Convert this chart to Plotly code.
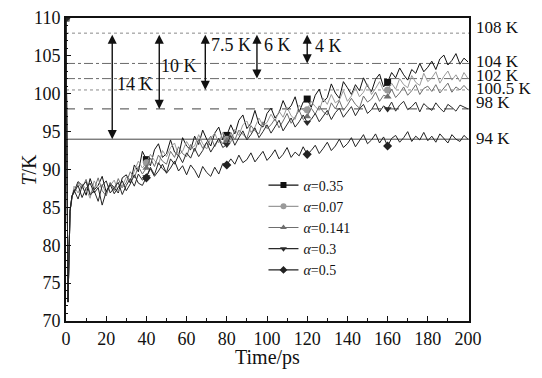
import plotly.graph_objects as go

# ---------------- data ----------------
time_ps = [0, 1, 2, 3] + list(range(4, 201, 2))

start_drop = [110, 72.5, 84.5, 86.5]

T_a035 = start_drop + [
    87.1, 88.4, 87.9, 86.6, 88.8, 87.3, 87.9, 89.1, 87.0, 88.2,
    87.6, 86.9, 88.9, 89.3, 88.2, 90.6, 89.7, 92.4, 91.3, 90.5,
    92.6, 93.4, 91.6, 92.1, 93.9, 92.3, 91.8, 94.2, 93.1, 92.6,
    94.4, 93.3, 95.2, 94.0, 93.1, 94.8, 95.6, 93.9, 94.5, 95.9,
    94.7, 96.5, 97.2, 95.4, 96.1, 97.8, 96.0, 95.6, 97.4, 98.1,
    96.8, 97.5, 99.1, 97.9, 98.4, 99.6, 97.6, 98.9, 99.3, 98.2,
    99.8, 100.6, 98.9, 99.5, 101.3, 100.1, 99.4, 101.6, 100.8, 99.9,
    101.2, 100.4, 102.1, 101.0, 100.3, 101.9, 102.6, 100.9, 101.5, 102.8,
    102.1, 103.4, 102.5, 101.8, 103.2, 102.7, 104.0, 102.9, 103.5, 104.3,
    103.2, 104.6, 105.1, 103.8, 104.4, 105.3, 103.9, 104.7, 104.2]

T_a007 = start_drop + [
    87.8, 86.9, 88.1, 87.4, 86.2, 88.5, 87.6, 88.0, 86.8, 87.9,
    88.6, 87.1, 87.8, 89.0, 88.4, 89.8, 91.1, 90.2, 90.9, 92.0,
    91.2, 90.6, 92.5, 91.7, 92.9, 93.5, 91.9, 92.4, 93.7, 92.8,
    93.1, 94.6, 93.4, 92.7, 94.1, 94.8, 93.5, 94.9, 94.0, 93.6,
    95.3, 94.5, 95.9, 96.4, 94.9, 95.6, 96.8, 95.8, 96.2, 97.3,
    96.4, 97.7, 96.9, 98.2, 97.1, 96.6, 98.5, 97.8, 97.9, 99.0,
    98.3, 97.8, 99.4, 98.6, 99.9, 98.8, 99.2, 100.4, 99.0, 99.7,
    100.8, 99.6, 100.2, 101.3, 99.9, 100.7, 101.6, 100.4, 100.5, 101.4,
    100.6, 102.0, 101.2, 100.8, 102.4, 101.5, 101.1, 102.7, 101.6, 102.1,
    102.9, 101.4, 102.3, 103.0, 101.8, 102.5, 101.6, 102.8, 102.0]

T_a0141 = start_drop + [
    86.9, 88.2, 87.5, 88.7, 86.8, 87.4, 88.9, 87.2, 86.5, 88.3,
    87.2, 88.8, 87.6, 88.3, 89.7, 88.9, 90.4, 89.4, 90.2, 91.5,
    90.4, 91.9, 91.1, 90.7, 92.4, 91.6, 93.0, 92.1, 91.7, 93.3,
    92.4, 93.9, 92.8, 93.6, 94.4, 93.0, 94.1, 93.4, 93.8, 94.9,
    93.9, 95.2, 94.6, 94.1, 95.8, 95.1, 94.7, 96.3, 95.4, 95.9,
    96.7, 95.5, 96.4, 97.4, 96.1, 97.0, 97.8, 96.6, 97.0, 98.1,
    97.3, 98.4, 97.6, 97.2, 98.8, 98.0, 99.1, 97.8, 98.5, 99.4,
    98.6, 98.1, 99.7, 98.9, 99.3, 100.2, 99.0, 99.8, 99.6, 100.6,
    99.5, 100.1, 100.9, 99.8, 100.4, 101.2, 99.9, 100.7, 101.0, 100.3,
    101.2, 100.1, 100.8, 101.4, 100.2, 100.9, 100.5, 101.1, 100.5]

T_a03 = start_drop + [
    87.3, 86.1, 87.8, 88.4, 86.6, 87.2, 85.8, 87.9, 88.5, 86.9,
    87.6, 88.3, 86.7, 87.9, 88.8, 87.8, 89.4, 88.6, 89.0, 90.3,
    89.3, 90.9, 90.1, 89.6, 91.4, 90.7, 91.9, 90.9, 92.2, 91.5,
    92.8, 91.7, 92.5, 93.6, 92.3, 93.2, 94.1, 92.9, 93.3, 94.5,
    93.2, 94.2, 95.1, 93.9, 94.6, 95.5, 94.2, 95.0, 95.9, 94.8,
    95.7, 96.5, 95.1, 95.9, 96.8, 95.6, 96.3, 97.2, 96.2, 96.6,
    97.4, 96.3, 97.0, 97.8, 96.6, 97.5, 98.1, 96.9, 97.6, 98.3,
    97.1, 98.0, 98.6, 97.4, 97.9, 98.8, 97.6, 98.4, 98.0, 98.9,
    97.7, 98.5, 99.0, 97.9, 98.3, 98.9, 97.6, 98.7, 98.2, 97.8,
    98.8, 98.1, 97.6, 98.6, 98.2, 97.7, 98.5, 98.3, 98.0]

T_a05 = start_drop + [
    87.0, 87.9, 86.3, 87.5, 88.2, 86.9, 87.6, 85.3, 87.1, 88.0,
    86.8, 87.7, 88.5, 87.2, 88.1, 89.3, 88.2, 87.9, 88.9, 90.1,
    89.1, 89.8, 90.7, 89.5, 90.2, 91.1, 89.8, 90.5, 89.3, 90.6,
    89.9, 88.9, 90.4, 89.6, 89.1, 90.3, 89.4, 90.8, 90.6, 91.4,
    90.7, 91.9, 90.9, 91.3, 92.2, 91.0, 91.7, 92.4, 91.2, 91.8,
    92.6, 91.4, 92.0, 92.9, 91.6, 92.3, 91.8, 93.0, 92.0, 92.5,
    93.2, 92.1, 92.8, 93.6, 92.5, 93.1, 94.0, 92.9, 93.4, 94.2,
    93.0, 93.8, 94.6, 93.4, 93.9, 94.7, 93.5, 94.3, 93.1, 94.1,
    94.5, 93.6, 94.2, 95.0, 93.7, 94.4, 93.9, 94.9, 93.8, 94.4,
    93.6, 94.7, 94.1, 93.5, 94.6, 94.0, 93.7, 94.5, 94.0]

series_names = ["0.35", "0.07", "0.141", "0.3", "0.5"]
series_values = [T_a035, T_a007, T_a0141, T_a03, T_a05]
marker_times = [0, 40, 80, 120, 160]

ref_levels = [108, 104, 102, 100.5, 98, 94]
ref_labels = ["108 K", "104 K", "102 K", "100.5 K", "98 K", "94 K"]
ref_label_T = [108.8, 104.2, 102.4, 100.7, 98.85, 94.1]

arrow_times = [23, 46.4, 69.3, 95, 120]
arrow_top = [108, 108, 108, 108, 108]
arrow_bottom = [94, 98, 100.5, 102, 104]
arrow_labels = ["14 K", "10 K", "7.5 K", "6 K", "4 K"]
arrow_label_t = [34.5, 56, 82, 105, 130.5]
arrow_label_T = [101.3, 103.6, 106.5, 106.5, 106.3]

# ---------------- styles ----------------
FONT = "Liberation Serif"
colors = ["#111111", "#9a9a9a", "#6e6e6e", "#2a2a2a", "#222222"]
symbols = ["square", "circle", "triangle-up", "triangle-down", "diamond"]
ref_dash = ["dot", "dashdot", "dashdot", "dot", "dash", "solid"]
ref_color = ["#8a8a8a", "#6a6a6a", "#6a6a6a", "#8a8a8a", "#444444", "#444444"]

fig = go.Figure()

for name, vals, c, s in zip(series_names, series_values, colors, symbols):
    fig.add_trace(go.Scatter(x=time_ps, y=vals, mode="lines",
                             line=dict(color=c, width=1), showlegend=False,
                             hoverinfo="skip"))
    idx = [time_ps.index(t) for t in marker_times]
    fig.add_trace(go.Scatter(x=[time_ps[i] for i in idx], y=[vals[i] for i in idx],
                             mode="markers", marker=dict(symbol=s, color=c, size=7),
                             showlegend=False, hoverinfo="skip"))
    fig.add_trace(go.Scatter(x=[None], y=[None], mode="lines+markers",
                             name="<i>α</i>=" + name,
                             line=dict(color=c, width=1.2),
                             marker=dict(symbol=s, color=c, size=6)))

for lvl, d, c in zip(ref_levels, ref_dash, ref_color):
    fig.add_shape(type="line", xref="paper", x0=0, x1=1, yref="y", y0=lvl, y1=lvl,
                  line=dict(color=c, width=1, dash=d), layer="below")

for lab, ly in zip(ref_labels, ref_label_T):
    fig.add_annotation(xref="paper", x=1.012, yref="y", y=ly, text=lab,
                       showarrow=False, xanchor="left", yanchor="middle",
                       font=dict(family=FONT, size=17, color="#111"))

for t, y0, y1 in zip(arrow_times, arrow_top, arrow_bottom):
    fig.add_annotation(x=t, y=y1, ax=t, ay=y0, xref="x", yref="y", axref="x", ayref="y",
                       text="", showarrow=True, arrowside="end+start",
                       arrowhead=2, startarrowhead=2, arrowsize=1.3, startarrowsize=1.3,
                       arrowwidth=1.4, arrowcolor="#111")

for lab, t, T in zip(arrow_labels, arrow_label_t, arrow_label_T):
    fig.add_annotation(x=t, y=T, text=lab, showarrow=False,
                       font=dict(family=FONT, size=18, color="#111"))

# axis titles as annotations for exact placement
fig.add_annotation(xref="paper", yref="paper", x=-0.094, y=0.5, text="<i>T</i>/K",
                   textangle=-90, showarrow=False, xanchor="center", yanchor="middle",
                   font=dict(family=FONT, size=20, color="#111"))
fig.add_annotation(xref="paper", yref="paper", x=0.5, y=-0.121, text="Time/ps",
                   showarrow=False, xanchor="center", yanchor="middle",
                   font=dict(family=FONT, size=20, color="#111"))

fig.update_layout(
    width=534, height=370,
    margin=dict(l=58, r=73, t=10, b=57, autoexpand=False),
    paper_bgcolor="white", plot_bgcolor="white",
    font=dict(family=FONT, size=18, color="#111"),
    legend=dict(x=0.49, y=0.50, xanchor="left", yanchor="top",
                bgcolor="rgba(0,0,0,0)", font=dict(family=FONT, size=14),
                tracegroupgap=0, itemwidth=30),
    showlegend=True,
)
fig.update_xaxes(range=[0, 200.5], tickvals=list(range(0, 201, 20)),
                 ticks="inside", ticklen=5, tickwidth=1, tickcolor="#111",
                 minor=dict(dtick=10, ticks="inside", ticklen=3, tickcolor="#111"),
                 showline=True, linewidth=2, linecolor="#111", mirror=True,
                 showgrid=False, zeroline=False, automargin=False,
                 ticklabeloverflow="allow",
                 tickfont=dict(family=FONT, size=18))
fig.update_yaxes(range=[70, 110], tickvals=list(range(70, 111, 5)),
                 ticks="inside", ticklen=5, tickwidth=1, tickcolor="#111",
                 minor=dict(dtick=1, ticks="inside", ticklen=2, tickcolor="#111"),
                 showline=True, linewidth=2, linecolor="#111", mirror=True,
                 showgrid=False, zeroline=False, automargin=False,
                 ticklabeloverflow="allow",
                 tickfont=dict(family=FONT, size=18))

fig.write_html("out.html")
